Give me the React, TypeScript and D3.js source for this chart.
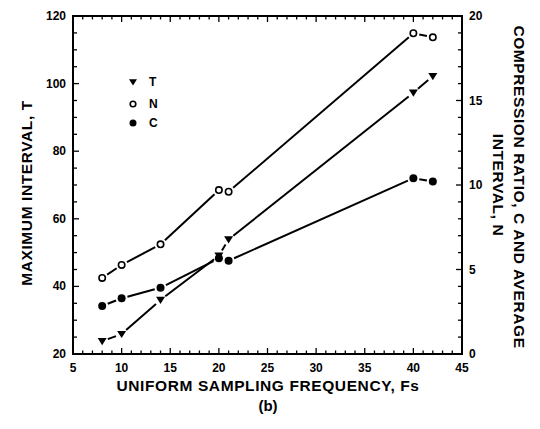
import React from "react";
import * as d3 from "d3";

const freq = [8, 10, 14, 20, 21, 40, 42];
// left axis (maximum interval)
const tValues = [23.8, 25.9, 36.0, 49.1, 53.9, 97.3, 102.2];
// right axis (compression ratio / average interval)
const nValues = [4.5, 5.27, 6.49, 9.7, 9.6, 18.98, 18.74];
const cValues = [2.84, 3.3, 3.92, 5.66, 5.52, 10.4, 10.2];

const xTicks = [5, 10, 15, 20, 25, 30, 35, 40, 45];
const leftTicks = [20, 40, 60, 80, 100, 120];
const rightTicks = [0, 5, 10, 15, 20];

const W = 540;
const H = 429;
const m = { left: 73, right: 78, top: 16, bottom: 75 };
const font = "'Liberation Sans', Arial, sans-serif";

const App = () => {
  const x = d3.scaleLinear().domain([5, 45]).range([m.left, W - m.right]);
  const yL = d3.scaleLinear().domain([20, 120]).range([H - m.bottom, m.top]);
  const yR = d3.scaleLinear().domain([0, 20]).range([H - m.bottom, m.top]);
  const x0 = x(5), x1 = x(45), y0 = yL(20), y1 = yL(120);

  // lines stop short of each marker, like the original plot
  const segments = (pts: [number, number][], gap: number) => {
    const out: JSX.Element[] = [];
    for (let i = 0; i < pts.length - 1; i++) {
      const [ax, ay] = pts[i];
      const [bx, by] = pts[i + 1];
      const len = Math.hypot(bx - ax, by - ay);
      if (len < gap * 2) continue;
      const ux = (bx - ax) / len, uy = (by - ay) / len;
      out.push(
        <line key={i} x1={ax + ux * gap} y1={ay + uy * gap} x2={bx - ux * gap} y2={by - uy * gap}
          stroke="#000" strokeWidth={2} />
      );
    }
    return out;
  };

  const tPts: [number, number][] = freq.map((f, i) => [x(f), yL(tValues[i])]);
  const nPts: [number, number][] = freq.map((f, i) => [x(f), yR(nValues[i])]);
  const cPts: [number, number][] = freq.map((f, i) => [x(f), yR(cValues[i])]);

  const tri = (cx: number, cy: number, s = 4.5) =>
    `M${cx - s},${cy - s * 0.7}L${cx + s},${cy - s * 0.7}L${cx},${cy + s * 0.9}Z`;

  const minorX = d3.range(5, 46, 1);
  const minorL = d3.range(20, 121, 5);
  const minorR = d3.range(0, 21, 1);
  const titleStyle = { fontSize: 15.5, letterSpacing: 0.6 };

  return (
    <svg width={W} height={H} style={{ display: "block", position: "absolute", left: 0, top: 0 }}
      fontFamily={font} fontWeight="bold">
      <rect width={W} height={H} fill="#fff" />
      {/* ticks */}
      {minorX.map((v) => {
        const major = v % 5 === 0;
        const l = major ? 6 : 3.5;
        return (
          <g key={"x" + v} stroke="#000" strokeWidth={1.3}>
            <line x1={x(v)} x2={x(v)} y1={y0} y2={y0 - l} />
            <line x1={x(v)} x2={x(v)} y1={y1} y2={y1 + l} />
          </g>
        );
      })}
      {minorL.map((v) => (
        <line key={"l" + v} x1={x0} x2={x0 + (v % 20 === 0 ? 6 : 4)} y1={yL(v)} y2={yL(v)}
          stroke="#000" strokeWidth={1.3} />
      ))}
      {minorR.map((v) => (
        <line key={"r" + v} x1={x1} x2={x1 - (v % 5 === 0 ? 6 : 4)} y1={yR(v)} y2={yR(v)}
          stroke="#000" strokeWidth={1.3} />
      ))}
      <rect x={x0} y={y1} width={x1 - x0} height={y0 - y1} fill="none" stroke="#000" strokeWidth={2} />

      {/* tick labels */}
      {xTicks.map((v) => (
        <text key={"xt" + v} x={x(v)} y={y0 + 18} textAnchor="middle" fontSize={12}>{v}</text>
      ))}
      {leftTicks.map((v) => (
        <text key={"lt" + v} x={x0 - 7} y={yL(v) + 4} textAnchor="end" fontSize={12}>{v}</text>
      ))}
      {rightTicks.map((v) => (
        <text key={"rt" + v} x={x1 + 7} y={yR(v) + 4} textAnchor="start" fontSize={12}>{v}</text>
      ))}

      {/* series */}
      {segments(tPts, 6)}
      {segments(nPts, 6)}
      {segments(cPts, 6)}
      {tPts.map(([cx, cy], i) => <path key={"tp" + i} d={tri(cx, cy)} fill="#000" />)}
      {nPts.map(([cx, cy], i) => (
        <circle key={"np" + i} cx={cx} cy={cy} r={3.2} fill="#fff" stroke="#000" strokeWidth={1.6} />
      ))}
      {cPts.map(([cx, cy], i) => <circle key={"cp" + i} cx={cx} cy={cy} r={4} fill="#000" />)}

      {/* legend */}
      <path d={tri(133, 82, 4)} fill="#000" />
      <text x={149} y={86} fontSize={12}>T</text>
      <circle cx={133} cy={104} r={2.8} fill="#fff" stroke="#000" strokeWidth={1.6} />
      <text x={149} y={108} fontSize={12}>N</text>
      <circle cx={133} cy={123} r={3.5} fill="#000" />
      <text x={149} y={127} fontSize={12}>C</text>

      {/* axis titles */}
      <text x={268} y={391} textAnchor="middle" {...titleStyle}>UNIFORM SAMPLING FREQUENCY, Fs</text>
      <text x={268} y={411} textAnchor="middle" fontSize={15}>(b)</text>
      <text transform={`translate(32,${(y0 + y1) / 2 + 8}) rotate(-90)`} textAnchor="middle" {...titleStyle}>
        MAXIMUM INTERVAL, T
      </text>
      <text transform={`translate(514,${(y0 + y1) / 2 + 2}) rotate(90)`} textAnchor="middle" {...titleStyle}>
        COMPRESSION RATIO, C AND AVERAGE
      </text>
      <text transform={`translate(493,${(y0 + y1) / 2}) rotate(90)`} textAnchor="middle" {...titleStyle}>
        INTERVAL, N
      </text>
    </svg>
  );
};

export default App;
